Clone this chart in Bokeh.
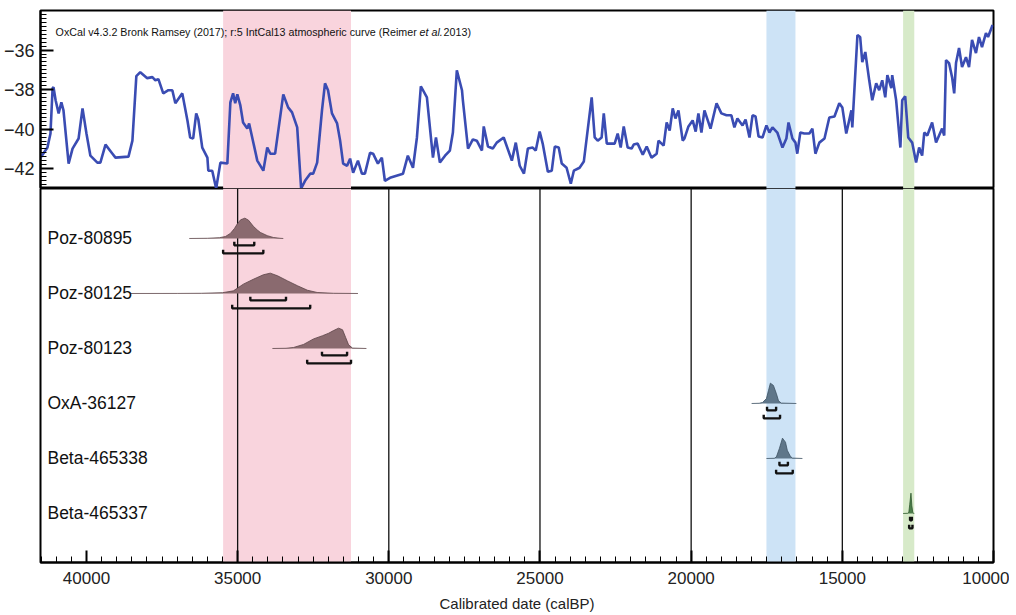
import numpy as np
from bokeh.plotting import figure
from bokeh.layouts import column
from bokeh.models import Range1d, FixedTicker, SingleIntervalTicker, Label
from bokeh.core.properties import value
from bokeh.embed import file_html
from bokeh.resources import INLINE

# ---------------- data ----------------
curve_year = [
    41520, 41290, 41190, 41120, 41090, 41020, 40920, 40830, 40760, 40590,
    40460, 40260, 40130, 40000, 39870, 39640, 39540, 39370, 39140, 39040,
    38610, 38480, 38350, 38220, 37990, 37820, 37720, 37620, 37460, 37290,
    37160, 37060, 36830, 36660, 36570, 36470, 36370, 36300, 36170, 36000,
    35970, 35840, 35710, 35570, 35340, 35240, 35150, 35080, 35010, 34910,
    34820, 34680, 34620, 34350, 34150, 34020, 33920, 33760, 33490, 33330,
    33200, 33030, 32900, 32770, 32600, 32500, 32370, 32210, 32110, 32010,
    31880, 31710, 31610, 31510, 31380, 31280, 31180, 31020, 30890, 30790,
    30620, 30520, 30360, 30230, 30130, 29960, 29530, 29370, 29200, 29070,
    28940, 28740, 28540, 28440, 28310, 28140, 27980, 27880, 27750, 27580,
    27550, 27380, 27220, 27090, 26920, 26860, 26720, 26560, 26430, 26200,
    25930, 25800, 25670, 25530, 25400, 25240, 25140, 25010, 24910, 24740,
    24610, 24510, 24380, 24280, 24120, 23980, 23880, 23690, 23550, 23290,
    23190, 23090, 22960, 22890, 22790, 22530, 22430, 22330, 22230, 22100,
    21970, 21900, 21770, 21600, 21470, 21310, 21140, 21080, 20910, 20810,
    20710, 20610, 20520, 20420, 20280, 20220, 20090, 19950, 19850, 19760,
    19660, 19560, 19360, 19160, 19000, 18830, 18670, 18570, 18470, 18300,
    18200, 18070, 17970, 17870, 17770, 17640, 17510, 17410, 17310, 17150,
    16980, 16850, 16780, 16650, 16550, 16490, 16390, 16260, 16090, 15990,
    15890, 15760, 15590, 15430, 15260, 15100, 15000, 14870, 14700, 14670,
    14500, 14410, 14340, 14240, 14110, 14010, 13880, 13780, 13680, 13580,
    13510, 13380, 13350, 13220, 13080, 13020, 12920, 12820, 12690, 12560,
    12460, 12360, 12290, 12190, 12030, 11900, 11800, 11700, 11630, 11570,
    11470, 11370, 11300, 11240, 11140, 11040, 10910, 10810, 10710, 10580,
    10480, 10380, 10250, 10180, 10030,
]
curve_d18o = [
    -41.44, -40.93, -40.22, -37.93, -37.88, -38.54, -39.20, -38.64, -39.05, -41.74,
    -40.98, -40.47, -38.95, -40.22, -41.34, -41.69, -41.69, -40.78, -41.24, -41.44,
    -41.39, -40.58, -37.32, -37.12, -37.42, -37.37, -37.53, -37.47, -38.19, -38.03,
    -38.03, -38.69, -38.19, -39.56, -40.42, -40.47, -39.20, -39.51, -40.93, -41.44,
    -42.10, -42.10, -43.00, -41.69, -41.74, -38.64, -38.19, -38.69, -38.24, -38.80,
    -39.66, -39.97, -39.71, -41.59, -42.10, -40.93, -41.24, -41.24, -38.24, -38.90,
    -39.15, -39.91, -43.00, -42.61, -42.25, -42.25, -41.69, -39.05, -37.68, -38.03,
    -39.20, -39.71, -40.58, -41.74, -41.85, -41.49, -42.20, -41.59, -42.25, -42.25,
    -41.19, -41.24, -41.74, -41.44, -42.61, -42.46, -42.25, -41.34, -41.95, -40.42,
    -37.83, -38.39, -41.44, -40.42, -41.69, -41.34, -41.08, -40.17, -37.02, -38.03,
    -38.54, -40.98, -40.52, -40.58, -41.08, -39.86, -40.88, -40.98, -40.68, -40.42,
    -41.59, -40.68, -41.85, -42.25, -40.98, -40.93, -41.08, -40.12, -40.73, -42.15,
    -42.10, -40.88, -40.93, -41.74, -41.95, -42.76, -42.10, -41.95, -41.64, -38.39,
    -40.42, -40.58, -40.42, -39.20, -40.73, -40.73, -40.22, -40.93, -39.86, -40.93,
    -40.98, -40.78, -40.73, -41.29, -40.88, -41.44, -41.24, -40.58, -40.83, -39.66,
    -40.07, -38.95, -39.46, -39.05, -40.58, -40.47, -39.86, -39.56, -40.12, -39.20,
    -40.17, -39.05, -39.97, -38.69, -39.20, -39.30, -39.30, -39.91, -39.46, -39.81,
    -39.51, -40.42, -39.30, -39.36, -40.37, -40.42, -39.81, -40.17, -39.91, -40.17,
    -40.93, -40.47, -39.66, -40.47, -40.68, -41.24, -40.17, -40.22, -40.22, -39.97,
    -41.24, -40.68, -40.47, -39.41, -39.36, -38.69, -38.90, -40.22, -39.05, -39.91,
    -35.24, -35.34, -36.61, -36.10, -37.53, -38.54, -37.68, -38.03, -37.53, -38.39,
    -37.27, -37.93, -37.27, -38.54, -40.93, -38.54, -38.34, -40.42, -40.68, -41.69,
    -40.93, -41.34, -40.17, -40.32, -39.66, -40.68, -40.32, -39.97, -40.32, -36.51,
    -36.66, -37.37, -38.19, -36.66, -35.90, -36.86, -36.36, -36.86, -35.49, -36.15,
    -35.34, -35.85, -35.14, -35.34, -34.73,
]

band_start = [35480, 17510, 12990]
band_end = [31250, 16550, 12620]
band_color = ["#f9d4dd", "#cde3f6", "#d7eac9"]

samples = ["Poz-80895", "Poz-80125", "Poz-80123", "OxA-36127", "Beta-465338", "Beta-465337"]

poz80895_year = [36600, 36000, 35600, 35400, 35240, 35100, 35010, 34900, 34760, 34640, 34480, 34350, 34250, 34020, 33820, 33600, 33490]
poz80895_prob = [0, 0.01, 0.04, 0.10, 0.25, 0.50, 0.72, 0.92, 1.0, 0.90, 0.60, 0.42, 0.30, 0.14, 0.05, 0.01, 0]
poz80125_year = [38550, 37000, 36200, 35500, 35140, 34810, 34480, 34150, 33920, 33680, 33350, 33020, 32690, 32370, 31830, 31020]
poz80125_prob = [0, 0.003, 0.01, 0.04, 0.13, 0.46, 0.70, 0.92, 1.0, 0.87, 0.62, 0.38, 0.16, 0.05, 0.01, 0]
poz80123_year = [33850, 33400, 33150, 32820, 32490, 32190, 31990, 31830, 31660, 31530, 31430, 31330, 31200, 30740]
poz80123_prob = [0, 0.01, 0.05, 0.20, 0.47, 0.63, 0.75, 0.88, 1.0, 0.92, 0.55, 0.18, 0.02, 0]
oxa36127_year = [18000, 17750, 17640, 17510, 17440, 17380, 17280, 17180, 17110, 17020, 16520]
oxa36127_prob = [0, 0.01, 0.05, 0.24, 0.65, 1.0, 0.89, 0.48, 0.13, 0.02, 0]
beta465338_year = [17510, 17250, 17180, 17080, 16980, 16880, 16820, 16720, 16650, 16320]
beta465338_prob = [0, 0.01, 0.08, 0.50, 1.0, 0.80, 0.40, 0.11, 0.02, 0]
beta465337_year = [12990, 12840, 12800, 12770, 12730, 12700, 12670, 12640, 12620]
beta465337_prob = [0, 0.01, 0.06, 0.45, 1.0, 0.38, 0.05, 0.01, 0]

range68_from = [35110, 34580, 32210, 17490, 17080, 12760]
range68_to = [34450, 33400, 31380, 17190, 16800, 12700]
range95_from = [35480, 35180, 32700, 17600, 17190, 12790]
range95_to = [34150, 32600, 31250, 17060, 16640, 12680]

grid_years = [35000, 30000, 25000, 20000, 15000]

dist_fill = ["#8a6a6f", "#8a6a6f", "#8a6a6f", "#5f7689", "#5f7689", "#4c7d4a"]
dist_line = ["#5b4347", "#5b4347", "#5b4347", "#3f5263", "#3f5263", "#2f5a2e"]

FONT = "Liberation Sans"
X0, X1 = 41520, 10000
TY0, TY1 = -43, -34
BY0, BY1 = -0.891, 5.909

# ---------------- top panel ----------------
top = figure(frame_width=953, frame_height=178, x_range=Range1d(X0, X1),
             y_range=Range1d(TY0, TY1), output_backend="svg", toolbar_location=None,
             min_border_left=34, min_border_right=22, min_border_top=10, min_border_bottom=0)
top.grid.visible = False
top.xaxis.visible = False
top.outline_line_color = "black"
top.outline_line_width = 2
top.outline_line_alpha = 1

for s, e, c in zip(band_start, band_end, band_color):
    top.varea(x=[s, e], y1=[TY0, TY0], y2=[TY1, TY1], fill_color=c, fill_alpha=1)

top.line(curve_year, curve_d18o, line_color="#3a4cb3", line_width=2.6)

ya = top.yaxis[0]
ya.ticker = FixedTicker(ticks=[-42, -40, -38, -36],
                        minor_ticks=[round(v, 2) for v in np.arange(-43, -33.99, 0.2)])
ya.major_tick_in = 13
ya.major_tick_out = 0
ya.minor_tick_in = 6
ya.minor_tick_out = 0
ya.axis_line_width = 2
ya.major_tick_line_width = 2
ya.minor_tick_line_width = 1
ya.major_label_text_font = FONT
ya.major_label_text_font_size = "18px"
ya.major_label_text_color = "#222222"
ya.major_label_standoff = 6

note_x, note_y = 41020, -35.1
NOTE_SIZE = "10.7px"
top.add_layout(Label(x=note_x, y=note_y, text="OxCal v4.3.2 Bronk Ramsey (2017); r:5 IntCal13 atmospheric curve (Reimer ",
                     text_font=FONT, text_font_size=NOTE_SIZE, text_baseline="middle", text_color="#111111"))
top.add_layout(Label(x=note_x, y=note_y, x_offset=364, text="et al.",
                     text_font=FONT, text_font_size=NOTE_SIZE, text_font_style="italic",
                     text_baseline="middle", text_color="#111111"))
top.add_layout(Label(x=note_x, y=note_y, x_offset=388, text="2013)",
                     text_font=FONT, text_font_size=NOTE_SIZE, text_baseline="middle", text_color="#111111"))

# ---------------- bottom panel ----------------
bot = figure(frame_width=953, frame_height=374, x_range=top.x_range,
             y_range=Range1d(BY0, BY1), output_backend="svg", toolbar_location=None,
             min_border_left=34, min_border_right=22, min_border_top=0, min_border_bottom=10)
bot.grid.visible = False
bot.yaxis.visible = False
bot.outline_line_color = "black"
bot.outline_line_width = 2
bot.outline_line_alpha = 1

for s, e, c in zip(band_start, band_end, band_color):
    bot.varea(x=[s, e], y1=[BY0, BY0], y2=[BY1, BY1], fill_color=c, fill_alpha=1)

bot.segment(x0=grid_years, y0=[BY0] * len(grid_years), x1=grid_years, y1=[BY1] * len(grid_years),
            line_color="#111111", line_width=1.3)

dist_years = [poz80895_year, poz80125_year, poz80123_year, oxa36127_year, beta465338_year, beta465337_year]
dist_probs = [poz80895_prob, poz80125_prob, poz80123_prob, oxa36127_prob, beta465338_prob, beta465337_prob]
PEAK = 0.37
n = len(samples)
for i, (yrs, pr) in enumerate(zip(dist_years, dist_probs)):
    base = n - 1 - i
    top_y = [base + PEAK * p for p in pr]
    bot.varea(x=yrs, y1=[base] * len(yrs), y2=top_y, fill_color=dist_fill[i], fill_alpha=1)
    bot.line(x=yrs, y=top_y, line_color=dist_line[i], line_width=1, line_alpha=0.8)

# brackets (68.2% and 95.4% ranges)
br_xs, br_ys = [], []
TICK = 0.065
for i in range(n):
    base = n - 1 - i
    for lo, hi, off in ((range68_from[i], range68_to[i], -0.125), (range95_from[i], range95_to[i], -0.27)):
        yb = base + off
        br_xs.append([lo, lo, hi, hi])
        br_ys.append([yb + TICK, yb, yb, yb + TICK])
bot.multi_line(xs=br_xs, ys=br_ys, line_color="#111111", line_width=2.4)

bot.text(x=[41290] * n, y=[n - 1 - i for i in range(n)], text=samples,
         text_font=value(FONT), text_font_size="17.5px", text_baseline="middle",
         text_align="left", text_color="#111111")

xa = bot.xaxis[0]
xa.ticker = SingleIntervalTicker(interval=5000, num_minor_ticks=10)
xa.major_tick_in = 12
xa.major_tick_out = 0
xa.minor_tick_in = 6
xa.minor_tick_out = 0
xa.axis_line_width = 2
xa.major_tick_line_width = 2
xa.minor_tick_line_width = 1
xa.major_label_text_font = FONT
xa.major_label_text_font_size = "17px"
xa.major_label_text_color = "#222222"
xa.major_label_standoff = 9
xa.axis_label = "Calibrated date (calBP)"
xa.axis_label_text_font = FONT
xa.axis_label_text_font_size = "15px"
xa.axis_label_text_font_style = "normal"
xa.axis_label_text_color = "#222222"
xa.axis_label_standoff = 8

layout = column(top, bot, spacing=0)
open("out.html", "w").write(file_html(layout, INLINE))
